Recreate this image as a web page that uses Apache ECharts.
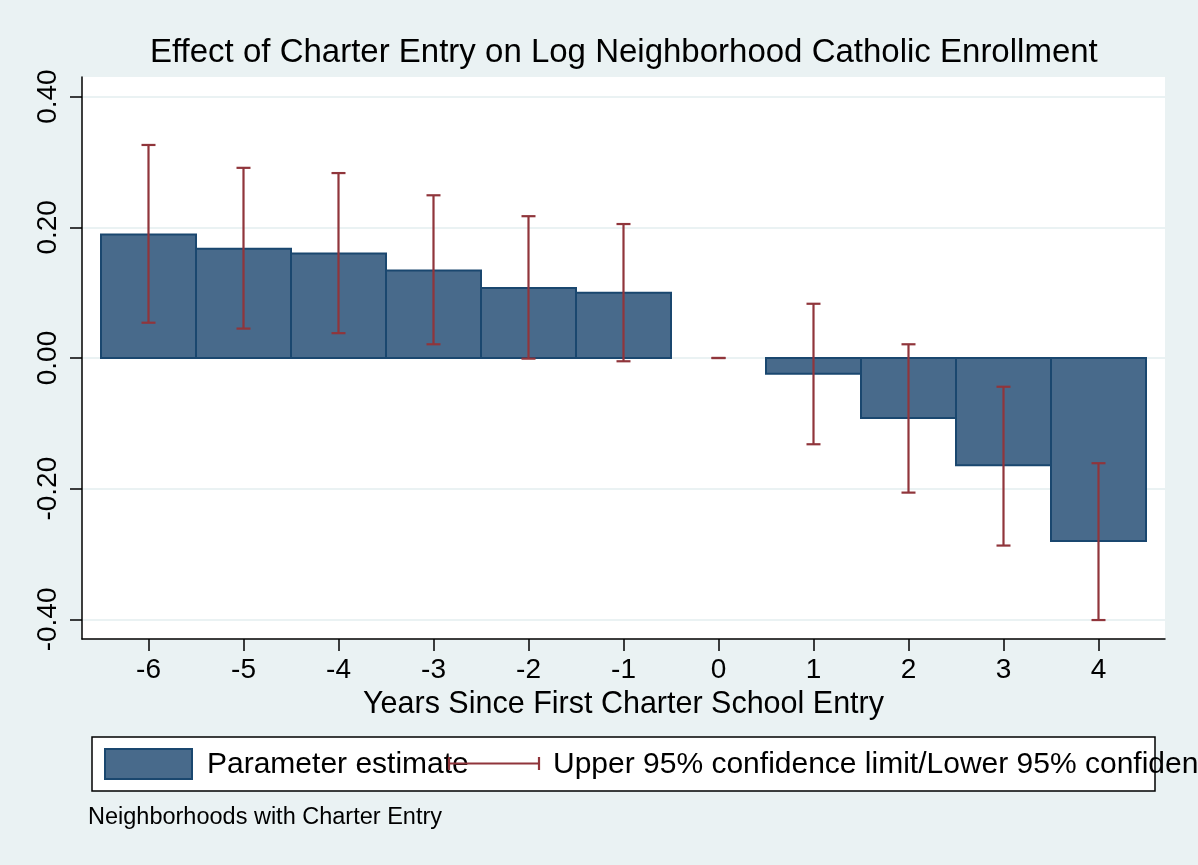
<!DOCTYPE html>
<html>
<head>
<meta charset="utf-8">
<script src="https://cdn.jsdelivr.net/npm/echarts@6/dist/echarts.min.js"></script>
<style>
html,body{margin:0;padding:0;background:#eaf2f3;}
#c{width:1198px;height:865px;}
</style>
</head>
<body>
<div id="c"></div>
<script>
const years = [-6, -5, -4, -3, -2, -1, 0, 1, 2, 3, 4];
const estimates = [0.189, 0.167, 0.160, 0.134, 0.107, 0.100, 0.000, -0.024, -0.092, -0.164, -0.280];
const upperCI = [0.326, 0.291, 0.283, 0.249, 0.217, 0.205, 0.000, 0.083, 0.021, -0.044, -0.161];
const lowerCI = [0.054, 0.045, 0.038, 0.021, -0.001, -0.005, 0.000, -0.132, -0.206, -0.287, -0.401];
const xTicks = [-6, -5, -4, -3, -2, -1, 0, 1, 2, 3, 4];
const yTicks = [-0.4, -0.2, 0, 0.2, 0.4];

const FONT = '"Liberation Sans", Arial, Helvetica, sans-serif';
const NAVY_FILL = '#486a8b';
const NAVY_LINE = '#1a476f';
const MAROON = '#90353b';

const barData = years.map((x, i) => [x, estimates[i]]);
const ciData = years.map((x, i) => [x, lowerCI[i], upperCI[i]]);

const chart = echarts.init(document.getElementById('c'), null, {renderer: 'canvas'});

const capStyle = {stroke: MAROON, lineWidth: 2.2};

const option = {
  backgroundColor: '#eaf2f3',
  animation: false,
  title: {
    text: 'Effect of Charter Entry on Log Neighborhood Catholic Enrollment',
    left: 150,
    top: 36,
    padding: 0,
    textStyle: {fontFamily: FONT, fontSize: 33, fontWeight: 'normal', color: '#000'}
  },
  grid: {
    left: 82, right: 33, top: 77, bottom: 226,
    show: true, backgroundColor: '#ffffff', borderWidth: 0
  },
  xAxis: {
    type: 'value',
    min: -6.7, max: 4.7,
    name: 'Years Since First Charter School Entry',
    nameLocation: 'middle',
    nameGap: 40,
    nameTextStyle: {fontFamily: FONT, fontSize: 30.5, color: '#000', verticalAlign: 'top'},
    axisLine: {show: true, onZero: false, lineStyle: {color: '#000', width: 1.5}},
    axisTick: {show: true, length: 12, customValues: xTicks, lineStyle: {color: '#000', width: 1.5}},
    axisLabel: {customValues: xTicks, margin: 17, fontFamily: FONT, fontSize: 28, color: '#000',
      formatter: v => String(v)},
    splitLine: {show: false}
  },
  yAxis: {
    type: 'value',
    min: -0.43, max: 0.43,
    axisLine: {show: true, onZero: false, lineStyle: {color: '#000', width: 1.5}},
    axisTick: {show: true, length: 12, customValues: yTicks, lineStyle: {color: '#000', width: 1.5}},
    axisLabel: {customValues: yTicks, rotate: 90, margin: 20, fontFamily: FONT, fontSize: 28, color: '#000',
      formatter: v => v.toFixed(2)},
    splitLine: {show: true, lineStyle: {color: '#eaf2f3', width: 2}}
  },
  series: [
    {
      name: 'Parameter estimate',
      type: 'custom',
      data: barData,
      encode: {x: 0, y: 1},
      z: 2,
      renderItem: function (params, api) {
        const x = api.value(0), y = api.value(1);
        if (y === 0) return null;
        const p0 = api.coord([x - 0.5, 0]);
        const p1 = api.coord([x + 0.5, y]);
        return {
          type: 'rect',
          shape: {x: p0[0], y: Math.min(p0[1], p1[1]), width: p1[0] - p0[0], height: Math.abs(p1[1] - p0[1])},
          style: {fill: NAVY_FILL, stroke: NAVY_LINE, lineWidth: 2}
        };
      }
    },
    {
      name: 'Upper 95% confidence limit/Lower 95% confidence limit',
      type: 'custom',
      data: ciData,
      encode: {x: 0, y: [1, 2]},
      z: 3,
      renderItem: function (params, api) {
        const x = api.value(0);
        const lo = api.coord([x, api.value(1)]);
        const hi = api.coord([x, api.value(2)]);
        const half = 7;
        return {
          type: 'group',
          children: [
            {type: 'line', shape: {x1: lo[0], y1: lo[1], x2: hi[0], y2: hi[1]}, style: capStyle},
            {type: 'line', shape: {x1: hi[0] - half, y1: hi[1], x2: hi[0] + half, y2: hi[1]}, style: capStyle},
            {type: 'line', shape: {x1: lo[0] - half, y1: lo[1], x2: lo[0] + half, y2: lo[1]}, style: capStyle}
          ]
        };
      }
    }
  ],
  graphic: [
    {type: 'rect', z: 10,
      shape: {x: 92, y: 737, width: 1063, height: 54},
      style: {fill: '#ffffff', stroke: '#000', lineWidth: 1.5}},
    {type: 'rect', z: 11,
      shape: {x: 105, y: 749, width: 87, height: 30},
      style: {fill: NAVY_FILL, stroke: NAVY_LINE, lineWidth: 2}},
    {type: 'text', z: 11, x: 207, y: 765,
      style: {text: 'Parameter estimate', fontFamily: FONT, fontSize: 30, fill: '#000', verticalAlign: 'middle'}},
    {type: 'text', z: 11, x: 553, y: 765,
      style: {text: 'Upper 95% confidence limit/Lower 95% confidence limit', fontFamily: FONT, fontSize: 30, fill: '#000', verticalAlign: 'middle'}},
    {type: 'line', z: 12, shape: {x1: 449, y1: 763.5, x2: 539, y2: 763.5}, style: capStyle},
    {type: 'line', z: 12, shape: {x1: 449, y1: 757, x2: 449, y2: 770}, style: capStyle},
    {type: 'line', z: 12, shape: {x1: 539, y1: 757, x2: 539, y2: 770}, style: capStyle},
    {type: 'text', z: 11, x: 88, y: 818,
      style: {text: 'Neighborhoods with Charter Entry', fontFamily: FONT, fontSize: 23.5, fill: '#000', verticalAlign: 'middle'}}
  ]
};

chart.setOption(option);
</script>
</body>
</html>
